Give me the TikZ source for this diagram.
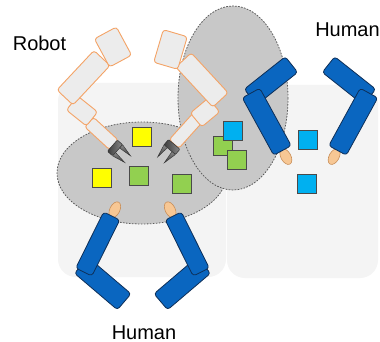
\documentclass[tikz,border=0pt]{standalone}
\usepackage{fontspec}
\setmainfont{Liberation Sans}
\usetikzlibrary{calc,shapes.geometric}

\definecolor{panel}{HTML}{F4F4F4}
\definecolor{zone}{HTML}{C8C8C8}
\definecolor{zoneline}{HTML}{5A5A5A}
\definecolor{robotfill}{HTML}{ECECEC}
\definecolor{robotline}{HTML}{F4A366}
\definecolor{armblue}{HTML}{0A66C0}
\definecolor{armline}{HTML}{0E2F58}
\definecolor{skin}{HTML}{F7C794}
\definecolor{skinline}{HTML}{C88E58}
\definecolor{partyellow}{HTML}{FFFF00}
\definecolor{partgreen}{HTML}{92D050}
\definecolor{partblue}{HTML}{00B0F0}
\definecolor{partline}{HTML}{4A4A4A}
\definecolor{gripdark}{HTML}{3C3C3C}
\definecolor{griplight}{HTML}{8A8A8A}

\tikzset{
  panelbox/.style={fill=panel, rounded corners=18pt},
  zonestyle/.style={fill=zone, draw=zoneline, line width=0.8pt, dash pattern=on 1.6pt off 1.4pt},
  robotlink/.style={rectangle, draw=robotline, fill=robotfill, line width=0.9pt, rounded corners=3pt, inner sep=0pt},
  humanlink/.style={rectangle, draw=armline, fill=armblue, line width=0.8pt, rounded corners=3pt, inner sep=0pt},
  handstyle/.style={ellipse, draw=skinline, fill=skin, line width=0.6pt, inner sep=0pt, minimum width=17pt, minimum height=10pt},
  part/.style={rectangle, draw=partline, line width=0.8pt, minimum size=19pt, inner sep=0pt},
  tagtext/.style={font=\fontsize{20}{24}\selectfont, anchor=base, inner sep=0pt},
  gripbase/.style={draw=black!80, line width=0.5pt, left color=gripdark, right color=griplight},
  gripfinger/.style={draw=black!80, line width=0.4pt, top color=griplight, bottom color=gripdark},
}

% a rectangular link between two end points, of a given width
\newcommand\armseg[5]{%
  \path let \p1=($#3-#2$), \n1={atan2(\y1,\x1)}, \n2={veclen(\x1,\y1)} in
    node[#1, rotate=\n1, minimum width=\n2, minimum height=#4] (#5) at ($#2!0.5!#3$) {};}

% a hand just beyond the end #2 of the forearm #1--#2
\newcommand\handat[3]{%
  \path let \p1=($#2-#1$), \n1={atan2(\y1,\x1)} in
    node[handstyle, rotate=\n1] (#3) at ($#2!-7pt!#1$) {};}

% a two-finger gripper mounted at #1, pointing along angle #2
\newcommand\gripperat[3]{%
  \begin{scope}[shift={#1}, rotate=#2]
    \coordinate (#3) at (2.5,0);
    \path[gripbase, rounded corners=1pt] (-1,-7.5) rectangle (6,7.5);
    \path[gripfinger] (6,-7.5) -- (6,-3) -- (19.5,-4.4) -- cycle;
    \path[gripfinger] (6,7.5) -- (6,3) -- (19.5,4.4) -- cycle;
  \end{scope}}

\begin{document}
\begin{tikzpicture}[x=1pt, y=-1pt]
  \useasboundingbox (0,0) rectangle (380,342);
  \fill[white] (0,0) rectangle (380,342);

  % work cells
  \path[panelbox] (58,83) rectangle (226,277);
  \path[panelbox] (227,85) rectangle (378,278);

  % shared zones
  \path[zonestyle] (142,173) ellipse [x radius=85, y radius=51];
  \path[zonestyle] (233,98) ellipse [x radius=55, y radius=92];

  % parts
  \node[part, fill=partyellow] (y1) at (142,137) {};
  \node[part, fill=partyellow] (y2) at (101.5,177.5) {};
  \node[part, fill=partgreen]  (g1) at (139,176) {};
  \node[part, fill=partgreen]  (g2) at (182,184) {};
  \node[part, fill=partgreen]  (g3) at (223,146) {};
  \node[part, fill=partblue]   (b1) at (232.5,130.5) {};
  \node[part, fill=partgreen]  (g4) at (236.5,160) {};
  \node[part, fill=partblue]   (b2) at (307.5,139.5) {};
  \node[part, fill=partblue]   (b3) at (306.5,184) {};

  % robot, left arm
  \armseg{robotlink}{(89,122)}{(114,145)}{13pt}{rlnarrow}
  \armseg{robotlink}{(72,103)}{(92,119)}{18pt}{rlelbow}
  \armseg{robotlink}{(102,58)}{(65,97.5)}{22pt}{rlupper}
  \armseg{robotlink}{(105.4,32.9)}{(120.6,61.1)}{25pt}{rlshoulder}
  \gripperat{(113.1,146.3)}{-41.5}{rlgrip}

  % robot, right arm
  \armseg{robotlink}{(201,114)}{(174,144)}{13pt}{rrnarrow}
  \armseg{robotlink}{(214,105)}{(196,120)}{18pt}{rrelbow}
  \armseg{robotlink}{(183.5,60)}{(220.5,100)}{21pt}{rrupper}
  \armseg{robotlink}{(175.3,33.2)}{(165.7,65.8)}{25pt}{rrshoulder}
  \gripperat{(173.6,145.1)}{-130.5}{rrgrip}

  % human on the right
  \handat{(251,93)}{(282.5,150.5)}{hrlhand}
  \handat{(369,93)}{(337.5,150.5)}{hrrhand}
  \armseg{humanlink}{(291.5,64.5)}{(250.5,97)}{20pt}{hrlupper}
  \armseg{humanlink}{(251,93)}{(282.5,150.5)}{20pt}{hrlfore}
  \armseg{humanlink}{(328.5,64.5)}{(369.5,97)}{20pt}{hrrupper}
  \armseg{humanlink}{(369,93)}{(337.5,150.5)}{20pt}{hrrfore}

  % human at the bottom
  \handat{(83.8,272)}{(111.7,216)}{hblhand}
  \handat{(201.2,272)}{(173.3,216)}{hbrhand}
  \armseg{humanlink}{(81.3,265.3)}{(124.2,301.8)}{21pt}{hblupper}
  \armseg{humanlink}{(83.8,272)}{(111.7,216)}{18pt}{hblfore}
  \armseg{humanlink}{(203.7,265.3)}{(160.8,301.8)}{21pt}{hbrupper}
  \armseg{humanlink}{(201.2,272)}{(173.3,216)}{18pt}{hbrfore}

  % captions
  \node[tagtext] (robotname) at (39.5,51) {Robot};
  \node[tagtext] (humantop) at (347.5,37) {Human};
  \node[tagtext] (humanbottom) at (144,339) {Human};
\end{tikzpicture}
\end{document}
